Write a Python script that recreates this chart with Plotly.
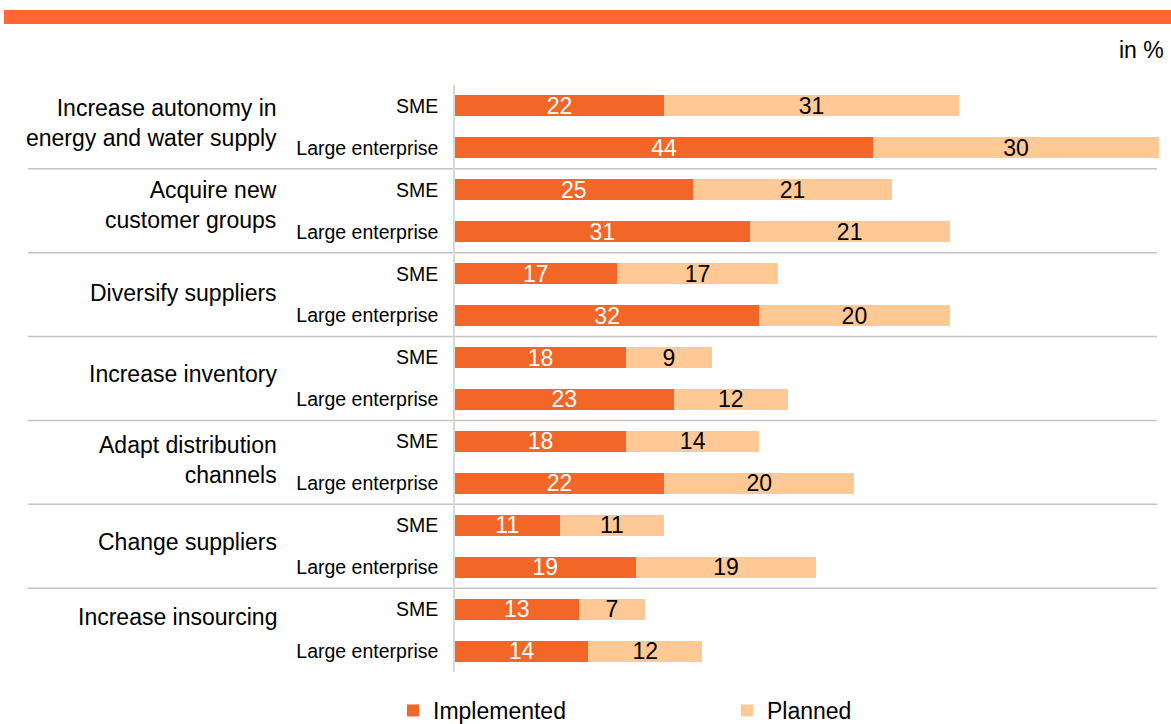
import plotly.graph_objects as go

# ---- data ----
categories = [
    "Increase autonomy in<br>energy and water supply",
    "Acquire new<br>customer groups",
    "Diversify suppliers",
    "Increase inventory",
    "Adapt distribution<br>channels",
    "Change suppliers",
    "Increase insourcing",
]
subgroups = ["SME", "Large enterprise"]
sme_implemented = [22, 25, 17, 18, 18, 11, 13]
sme_planned = [31, 21, 17, 9, 14, 11, 7]
large_implemented = [44, 31, 32, 23, 22, 19, 14]
large_planned = [30, 21, 20, 12, 20, 19, 12]

# ---- build rows (SME, Large per category) ----
implemented, planned, row_labels = [], [], []
for i in range(len(categories)):
    implemented += [sme_implemented[i], large_implemented[i]]
    planned += [sme_planned[i], large_planned[i]]
    row_labels += subgroups
rows = list(range(len(row_labels)))

W, H = 1171, 724
ML, MR, MT, MB = 455, 6, 85, 52
PW = W - ML - MR
PH = H - MT - MB
FONT = "Liberation Sans, Arial, sans-serif"
C_IMPL = "#F26628"
C_PLAN = "#FFC995"
BIG = 23
# vertical offset of each category label within its group (layout only)
label_offsets = [0.4, 0.35, 0.45, 0.4, 0.45, 0.4, 0.2]


def px_x(p):
    return (p - ML) / PW


def px_y(p):
    return (H - MB - p) / PH


fig = go.Figure()
fig.add_trace(go.Bar(
    y=rows, x=implemented, orientation="h", name="Implemented",
    marker=dict(color=C_IMPL, line=dict(width=0)),
    text=[str(v) for v in implemented], textposition="inside", textangle=0,
    insidetextanchor="middle", constraintext="none",
    textfont=dict(color="white", size=BIG, family=FONT),
))
fig.add_trace(go.Bar(
    y=rows, x=planned, orientation="h", name="Planned",
    marker=dict(color=C_PLAN, line=dict(width=0)),
    text=[str(v) for v in planned], textposition="inside", textangle=0,
    insidetextanchor="middle", constraintext="none",
    textfont=dict(color="black", size=BIG, family=FONT),
))

shapes = []
# top orange band
shapes.append(dict(type="rect", xref="paper", yref="paper",
                   x0=px_x(4), x1=px_x(1171), y0=px_y(24), y1=px_y(10),
                   fillcolor="#FF6633", line=dict(width=0), layer="above"))
# group separators
for g in range(len(categories) - 1):
    yv = 2 * g + 1.5
    shapes.append(dict(type="line", xref="paper", yref="y",
                       x0=px_x(28), x1=px_x(1157), y0=yv, y1=yv,
                       line=dict(color="#C4C4C4", width=1.5), layer="below"))

annotations = []
for g, cat in enumerate(categories):
    annotations.append(dict(
        text=cat, xref="paper", yref="y", x=px_x(279),
        y=2 * g + label_offsets[g],
        xanchor="right", yanchor="middle", align="right", showarrow=False,
        font=dict(size=BIG, color="black", family=FONT),
    ))
annotations.append(dict(
    text="in %", xref="paper", yref="paper", x=px_x(1166), y=px_y(50),
    xanchor="right", yanchor="middle", showarrow=False,
    font=dict(size=BIG, color="black", family=FONT),
))

fig.update_layout(
    width=W, height=H,
    margin=dict(l=ML, r=MR, t=MT, b=MB, autoexpand=False),
    barmode="stack", bargap=0.5,
    plot_bgcolor="white", paper_bgcolor="white",
    font=dict(family=FONT, size=19.5, color="black"),
    showlegend=True,
    legend=dict(orientation="h", x=px_x(393), xanchor="left",
                y=px_y(689), yanchor="top", traceorder="normal",
                font=dict(size=BIG, family=FONT, color="black"),
                entrywidth=289, entrywidthmode="pixels",
                bgcolor="rgba(0,0,0,0)"),
    xaxis=dict(range=[0, PW / 9.51], visible=False, fixedrange=True),
    yaxis=dict(tickvals=rows, ticktext=row_labels, autorange=False,
               range=[len(rows) - 0.5, -0.5], showgrid=False, zeroline=False,
               showline=True, linecolor="#D9D9D9", linewidth=1.5,
               ticks="", ticklabelstandoff=11, automargin=False,
               tickfont=dict(size=19.5, family=FONT, color="black")),
    shapes=shapes, annotations=annotations,
)

fig.write_html("out.html")
